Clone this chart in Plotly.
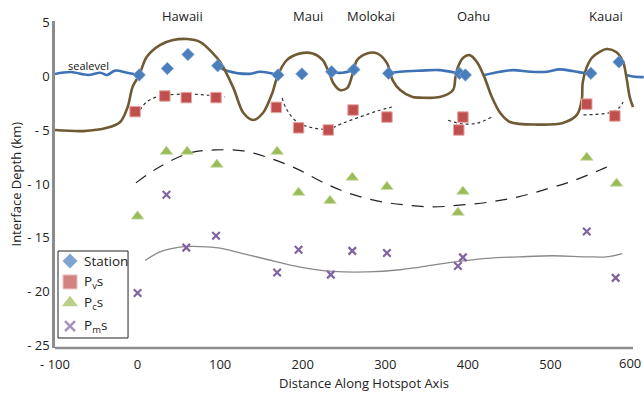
import plotly.graph_objects as go

# ---------------- data ----------------
station_x = [2, 36, 61, 97, 170, 199, 235, 262, 304, 390, 397, 549, 583]
station_y = [0.1, 0.7, 2.0, 0.95, 0.1, 0.2, 0.4, 0.6, 0.25, 0.25, 0.1, 0.25, 1.3]

pvs_x = [-3, 33, 59, 95, 168, 195, 231, 261, 302, 394, 389, 544, 578]
pvs_y = [-3.3, -1.85, -2.0, -2.0, -2.9, -4.8, -5.0, -3.15, -3.8, -3.8, -5.0, -2.6, -3.7]

pcs_x = [0, 35, 60, 96, 169, 195, 233, 260, 302, 388, 394, 544, 580]
pcs_y = [-13.0, -7.0, -7.0, -8.2, -7.0, -10.8, -11.55, -9.4, -10.25, -12.65, -10.7, -7.55, -9.95]

pms_x = [0, 35, 59, 95, 169, 195, 234, 260, 302, 388, 394, 544, 579]
pms_y = [-20.1, -11.0, -15.9, -14.8, -18.2, -16.1, -18.4, -16.2, -16.4, -17.6, -16.8, -14.4, -18.7]

# dotted Pvs trend segments
pvs_fit_x = [3, 11, 23, 36, 60, 84, 106, None,
             175, 181, 193, 212, 231, 249, 269, 290, 308, None,
             376, 394, 412, 429, None,
             540, 563, 575, 584, 588]
pvs_fit_y = [-3.15, -2.4, -1.94, -1.76, -1.67, -1.76, -1.94, None,
             -2.04, -3.15, -4.26, -4.8, -4.9, -4.35, -3.8, -3.24, -2.87, None,
             -4.1, -4.44, -4.35, -3.8, None,
             -3.6, -3.5, -3.33, -2.87, -2.4]

# dashed Pcs trend
pcs_fit_x = [-2, 27, 63, 94, 128, 160, 193, 223, 255, 290, 324, 358, 393, 427, 461, 496, 527, 560, 576]
pcs_fit_y = [-9.9, -8.4, -7.13, -6.85, -6.94, -7.6, -8.6, -9.8, -10.83, -11.57, -11.94, -12.13,
             -11.94, -11.67, -11.2, -10.46, -9.72, -8.7, -8.15]

# grey Pms trend
pms_fit_x = [9, 27, 51, 76, 100, 125, 157, 197, 237, 278, 318, 342, 382, 423, 463, 503, 544, 568, 587]
pms_fit_y = [-17.1, -16.3, -15.85, -15.8, -15.95, -16.4, -17.0, -17.7, -18.1, -18.15, -17.95,
             -17.7, -17.25, -16.9, -16.75, -16.65, -16.75, -16.75, -16.45]

# topography / bathymetry profile
topo_x = [-100, -66, -37, -21, -12, -6, 2, 11, 27, 43, 60, 76, 91, 100, 116, 128, 140, 152, 163,
          170, 181, 197, 212, 224, 233, 237, 245, 254, 260, 266, 278, 290, 302, 309, 318, 333,
          342, 366, 382, 385, 388, 394, 402, 411, 420, 429, 439, 451, 484, 515, 532, 538, 539,
          544, 551, 568, 580, 588, 592, 596, 600]
topo_y = [-5.0, -5.1, -4.8, -4.26, -2.87, -1.0, 0.1, 1.76, 2.87, 3.33, 3.43, 3.15, 2.13, 1.3,
          -1.1, -3.4, -4.07, -3.4, -1.6, 0.1, 1.5, 2.1, 2.1, 1.5, 0.1, -0.65, -1.3, -1.1, 0.1,
          1.5, 2.1, 2.1, 1.2, -0.4, -1.3, -1.95, -2.0, -1.95, -1.3, -0.1, 0.83, 1.67, 1.94, 1.3,
          -0.1, -1.94, -3.4, -4.26, -4.5, -4.35, -3.6, -2.2, -0.65, 0.83, 1.76, 2.5, 2.2, 1.3,
          -0.1, -1.94, -2.87]

# sea level line (interrupted where islands stand above it)
sea_x = [-100, -81, -60, -45, -37, -27, -13, 2, None,
         97, 108, 136, 148, 170, None,
         235, 248, 262, None,
         304, 318, 342, 366, 386, 390, None,
         420, 439, 455, 476, 496, 511, 527, 544, 549, None,
         592, 600, 613]
sea_y = [0.19, 0.37, 0.1, 0.31, 0.1, 0.5, 0.31, 0.1, None,
         0.9, 0.5, 0.2, 0.4, 0.1, None,
         0.35, 0.3, 0.55, None,
         0.25, 0.4, 0.5, 0.55, 0.3, 0.25, None,
         0.1, 0.4, 0.55, 0.4, 0.4, 0.62, 0.46, 0.25, 0.25, None,
         0.1, -0.05, -0.1]

island_names = ["Hawaii", "Maui", "Molokai", "Oahu", "Kauai"]
island_x = [55, 206, 283, 407, 567]

legend_names = ["Station", "P<sub>v</sub>s", "P<sub>c</sub>s", "P<sub>m</sub>s"]

x_ticks = [-100, 0, 100, 200, 300, 400, 500]
x_ticktext = ["- 100", "0", "100", "200", "300", "400", "500"]
x_last_tick = 600
x_last_text = "600"
y_ticks = [5, 0, -5, -10, -15, -20, -25]
y_ticktext = ["5", "0", "- 5", "- 10", "- 15", "- 20", "- 25"]

FONT = "Open Sans"
BLUE = "#4a7ebb"
RED = "#c0504d"
GREEN = "#9bbb59"
PURPLE = "#8064a2"

fig = go.Figure()

# lines
fig.add_trace(go.Scatter(x=pms_fit_x, y=pms_fit_y, mode="lines", showlegend=False,
                         line=dict(color="#8a8a8a", width=1.3, shape="spline"), hoverinfo="skip"))
fig.add_trace(go.Scatter(x=pcs_fit_x, y=pcs_fit_y, mode="lines", showlegend=False,
                         line=dict(color="#222222", width=1.2, dash="12px,9px", shape="spline"),
                         hoverinfo="skip"))
fig.add_trace(go.Scatter(x=pvs_fit_x, y=pvs_fit_y, mode="lines", showlegend=False, connectgaps=False,
                         line=dict(color="#333333", width=1.2, dash="dot", shape="spline"),
                         hoverinfo="skip"))
fig.add_trace(go.Scatter(x=sea_x, y=sea_y, mode="lines", showlegend=False, connectgaps=False,
                         line=dict(color="#3f72b5", width=2.6, shape="spline"), hoverinfo="skip"))
fig.add_trace(go.Scatter(x=topo_x, y=topo_y, mode="lines", showlegend=False,
                         line=dict(color="#6f5a33", width=2.6, shape="spline", smoothing=0.9),
                         hoverinfo="skip"))

# markers
sym = ["diamond", "square", "triangle-up", "x-thin"]
fig.add_trace(go.Scatter(x=station_x, y=station_y, mode="markers", name="Station", showlegend=False,
                         marker=dict(symbol=sym[0], size=9.5, color=BLUE,
                                     line=dict(color="#7ba3d6", width=0.8))))
fig.add_trace(go.Scatter(x=pvs_x, y=pvs_y, mode="markers", name="Pvs", showlegend=False,
                         marker=dict(symbol=sym[1], size=10.5, color=RED,
                                     line=dict(color="#e8a6a4", width=1))))
fig.add_trace(go.Scatter(x=pcs_x, y=pcs_y, mode="markers", name="Pcs", showlegend=False,
                         marker=dict(symbol=sym[2], size=11, color=GREEN,
                                     line=dict(color="#c9dca6", width=0.8))))
fig.add_trace(go.Scatter(x=pms_x, y=pms_y, mode="markers", name="Pms", showlegend=False,
                         marker=dict(symbol=sym[3], size=7.5, color=PURPLE,
                                     line=dict(color=PURPLE, width=2.2))))

# custom legend (keys on a hidden 0..1 overlay axis = plot-area fractions)
leg_rows = [0.266, 0.202, 0.138, 0.067]
leg_key_x = 0.0255
fig.add_trace(go.Scatter(
    x=[leg_key_x] * 4, y=leg_rows, xaxis="x2", yaxis="y2", mode="markers",
    showlegend=False, hoverinfo="skip", cliponaxis=False,
    marker=dict(symbol=sym, size=[11.5, 14, 14, 10], color=[BLUE, RED, GREEN, PURPLE],
                line=dict(color=["#4a7ebb", "#e8a6a4", "#9bbb59", PURPLE], width=[0, 1, 0, 2.6]))))

annotations = []
for name, xi in zip(island_names, island_x):
    annotations.append(dict(x=xi, y=1.0, xref="x", yref="paper", yanchor="bottom", yshift=-6,
                            text=name, showarrow=False, font=dict(size=13, color="#222", family=FONT)))
annotations.append(dict(x=-60, y=1.0, xref="x", yref="y", text="sealevel", showarrow=False,
                        font=dict(size=11, color="#111", family=FONT)))
annotations.append(dict(x=(364 - 55) / 589, y=-0.107, xref="paper", yref="paper",
                        xanchor="center", yanchor="middle",
                        text="Distance Along Hotspot Axis", showarrow=False,
                        font=dict(size=13, color="#222", family=FONT)))
annotations.append(dict(x=(15 - 55) / 589, y=0.5, xref="paper", yref="paper", textangle=-90,
                        xanchor="center", yanchor="middle",
                        text="Interface Depth (km)", showarrow=False,
                        font=dict(size=13, color="#222", family=FONT)))
annotations.append(dict(x=x_last_tick, y=0, xref="x", yref="paper", xanchor="right",
                        yanchor="middle", xshift=10, yshift=-15, text=x_last_text, showarrow=False,
                        font=dict(size=13, color="#222", family=FONT)))
for name, yr in zip(legend_names, leg_rows):
    annotations.append(dict(x=0.0455, y=yr, xref="paper", yref="paper", xanchor="left",
                            yanchor="middle", text=name, showarrow=False,
                            font=dict(size=13.5, color="#222", family=FONT)))

fig.update_layout(
    width=644, height=393,
    margin=dict(l=55, r=0, t=21, b=45, autoexpand=False),
    paper_bgcolor="white", plot_bgcolor="white",
    font=dict(family=FONT, size=13, color="#222"),
    xaxis=dict(range=[-100, 613.3], showgrid=False, zeroline=False, showline=False,
               automargin=False, ticklabeloverflow="allow",
               tickvals=x_ticks, ticktext=x_ticktext, ticks="", ticklabelstandoff=7,
               tickfont=dict(size=13, color="#222")),
    yaxis=dict(range=[-25.2, 5.1], showgrid=False, zeroline=False, showline=True,
               automargin=False, ticklabeloverflow="allow",
               linecolor="#8c8c8c", linewidth=2.5,
               tickvals=y_ticks, ticktext=y_ticktext, ticks="", ticklabelstandoff=0,
               tickfont=dict(size=13, color="#222")),
    xaxis2=dict(range=[0, 1], overlaying="x", anchor="y2", visible=False, fixedrange=True),
    yaxis2=dict(range=[0, 1], overlaying="y", anchor="x2", visible=False, fixedrange=True),
    shapes=[dict(type="line", xref="x", yref="paper", x0=-100, x1=600, y0=0, y1=0,
                 line=dict(color="#8c8c8c", width=2.5)),
            dict(type="rect", xref="paper", yref="paper", x0=0.0051, x1=0.124, y0=0.0306, y1=0.2966,
                 line=dict(color="#222", width=1), fillcolor="white", layer="below")],
    annotations=annotations,
    showlegend=False,
)

fig.write_html("out.html",
               config={"displayModeBar": False},
               post_script="document.body.style.margin='0';document.body.style.overflow='hidden';")
